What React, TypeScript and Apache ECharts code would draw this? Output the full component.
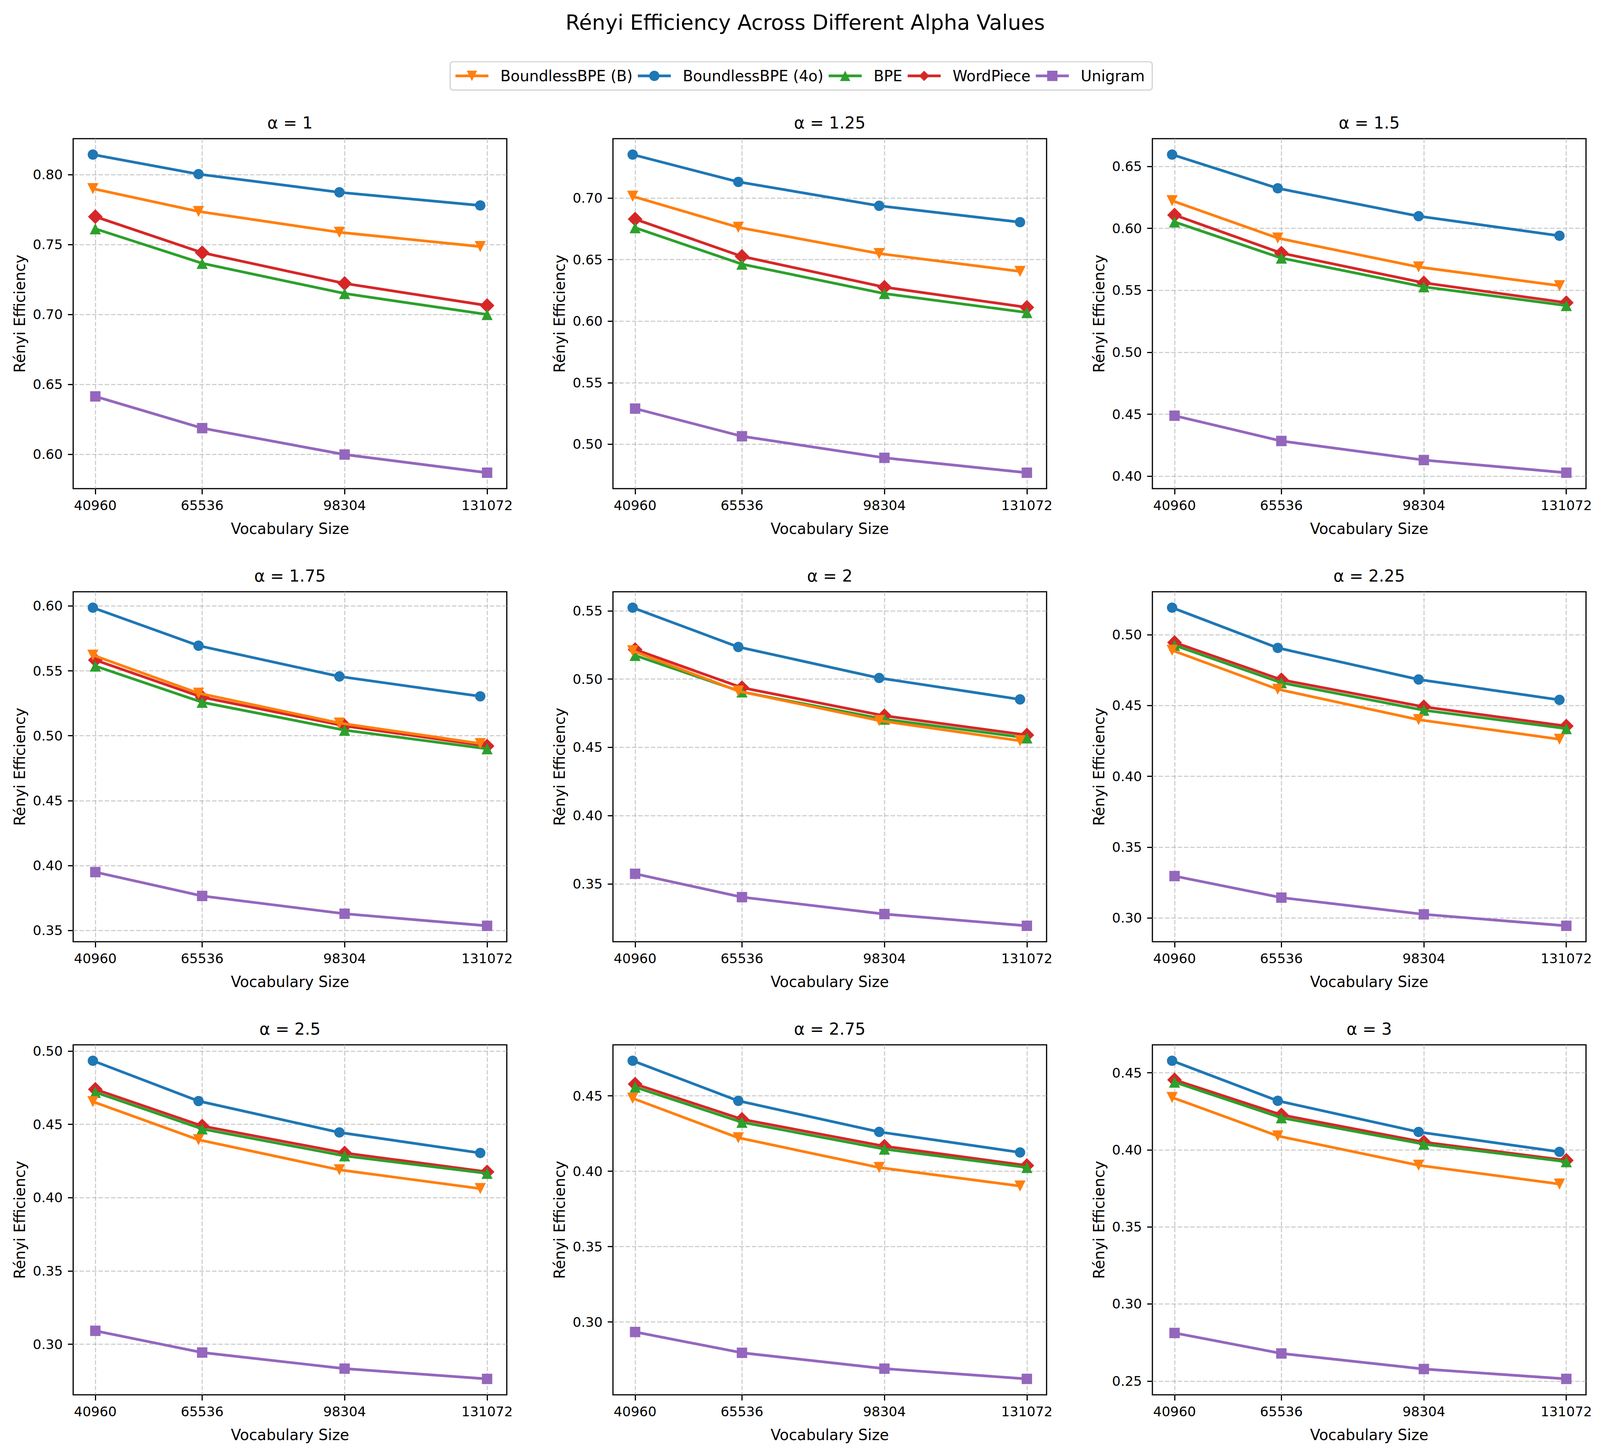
import React, { useEffect, useRef } from 'react';
import * as echarts from 'echarts';

// ---------------- data ----------------
const alphaLabels = ['1', '1.25', '1.5', '1.75', '2', '2.25', '2.5', '2.75', '3'];
const vocabSizes = [40960, 65536, 98304, 131072];
const vocabTickLabels = ['40960', '65536', '98304', '131072'];
// BoundlessBPE points sit slightly left of the nominal vocabulary sizes
const boundlessVocabSizes = [40400, 64700, 97100, 129500];

const boundlessB = [
  [0.790, 0.7737, 0.7588, 0.7486],
  [0.7014, 0.6762, 0.6549, 0.6404],
  [0.6223, 0.5921, 0.5688, 0.5537],
  [0.5621, 0.5328, 0.5098, 0.494],
  [0.5207, 0.4912, 0.4696, 0.4548],
  [0.489, 0.4615, 0.44, 0.4262],
  [0.4655, 0.4395, 0.419, 0.4062],
  [0.4484, 0.4222, 0.4025, 0.3902],
  [0.434, 0.409, 0.39, 0.3778],
];
const boundless4o = [
  [0.8144, 0.8004, 0.7874, 0.778],
  [0.7353, 0.7131, 0.6937, 0.6804],
  [0.6595, 0.6323, 0.6098, 0.594],
  [0.5987, 0.5694, 0.5457, 0.5304],
  [0.5523, 0.5235, 0.5008, 0.4851],
  [0.5191, 0.4907, 0.4684, 0.454],
  [0.4934, 0.4659, 0.4445, 0.4305],
  [0.4733, 0.4467, 0.4261, 0.4125],
  [0.4578, 0.4318, 0.4116, 0.3987],
];
const bpe = [
  [0.7613, 0.7366, 0.715, 0.700],
  [0.6759, 0.6463, 0.6224, 0.607],
  [0.6051, 0.576, 0.5528, 0.5377],
  [0.5537, 0.5258, 0.5043, 0.49],
  [0.5173, 0.4906, 0.4706, 0.4569],
  [0.4925, 0.4661, 0.4467, 0.4337],
  [0.4719, 0.4469, 0.4285, 0.4166],
  [0.4558, 0.4325, 0.4147, 0.4025],
  [0.4439, 0.4208, 0.4037, 0.3923],
];
const wordPiece = [
  [0.770, 0.7442, 0.7222, 0.7064],
  [0.6829, 0.6526, 0.6276, 0.6112],
  [0.6107, 0.58, 0.556, 0.54],
  [0.5583, 0.5297, 0.5076, 0.4921],
  [0.5216, 0.4937, 0.4731, 0.459],
  [0.4945, 0.4682, 0.4491, 0.4355],
  [0.4739, 0.4489, 0.4305, 0.4176],
  [0.4578, 0.4345, 0.4166, 0.4038],
  [0.4454, 0.4227, 0.405, 0.3932],
];
const unigram = [
  [0.6414, 0.6187, 0.5998, 0.5868],
  [0.529, 0.5065, 0.489, 0.4769],
  [0.4488, 0.4284, 0.413, 0.4028],
  [0.395, 0.3766, 0.3629, 0.3536],
  [0.3574, 0.3403, 0.3279, 0.3193],
  [0.3296, 0.3144, 0.3026, 0.2945],
  [0.3092, 0.2944, 0.2834, 0.2764],
  [0.2934, 0.2796, 0.2691, 0.2623],
  [0.2812, 0.2679, 0.2578, 0.2514],
];
const legendOrder = ['BoundlessBPE (B)', 'BoundlessBPE (4o)', 'BPE', 'WordPiece', 'Unigram'];

// ---------------- styling / layout (reference pixels, scaled to the viewport) ----------------
const REF_W = 4461;
const REF_H = 3720;
const FONT = 'DejaVu Sans';
const colLefts = [204, 1709, 3213];
const rowTops = [355, 1515, 2675];
const GW = 1209;
const GH = 896;

const methods = [
  { name: 'WordPiece', data: wordPiece, x: vocabSizes, color: '#d62728', symbol: 'diamond', size: 41, rotate: 0 },
  { name: 'BPE', data: bpe, x: vocabSizes, color: '#2ca02c', symbol: 'triangle', size: 31, rotate: 0 },
  { name: 'Unigram', data: unigram, x: vocabSizes, color: '#9467bd', symbol: 'rect', size: 29, rotate: 0 },
  { name: 'BoundlessBPE (4o)', data: boundless4o, x: boundlessVocabSizes, color: '#1f77b4', symbol: 'circle', size: 29, rotate: 0 },
  { name: 'BoundlessBPE (B)', data: boundlessB, x: boundlessVocabSizes, color: '#ff7f0e', symbol: 'triangle', size: 31, rotate: 180 },
];

function buildOption(sx: number, sy: number) {
  const X = (v: number) => v * sx;
  const Y = (v: number) => v * sy;
  const sf = Math.min(sx, sy);
  const F = (v: number) => v * sf;
  const gridLineStyle = { color: '#b0b0b0', opacity: 0.6, width: F(3.3), type: [F(12.3), F(5.3)] };

  const allX = [...vocabSizes, ...boundlessVocabSizes];
  const xLo = Math.min(...allX);
  const xHi = Math.max(...allX);
  const xMin = xLo - 0.05 * (xHi - xLo);
  const xMax = xHi + 0.05 * (xHi - xLo);

  const grids: any[] = [];
  const xAxes: any[] = [];
  const yAxes: any[] = [];
  const series: any[] = [];
  const titles: any[] = [
    {
      text: 'Rényi Efficiency Across Different Alpha Values',
      left: X(2245),
      top: Y(57),
      textAlign: 'center',
      textVerticalAlign: 'middle',
      padding: 0,
      textStyle: { fontFamily: FONT, fontSize: F(58.3), fontWeight: 'normal', color: '#000' },
    },
  ];

  alphaLabels.forEach((a, i) => {
    const r = Math.floor(i / 3);
    const c = i % 3;
    const left = colLefts[c];
    const top = rowTops[r];
    grids.push({
      left: X(left), top: Y(top), width: X(GW), height: Y(GH),
      show: true, borderColor: '#000', borderWidth: F(3.3), backgroundColor: 'transparent', containLabel: false,
    });

    const vals = methods.flatMap((m) => m.data[i]);
    const lo = Math.min(...vals);
    const hi = Math.max(...vals);
    const yMin = lo - 0.05 * (hi - lo);
    const yMax = hi + 0.05 * (hi - lo);
    const yTicks: number[] = [];
    for (let k = Math.ceil(yMin / 0.05 - 1e-9); k * 0.05 <= yMax + 1e-9; k++) {
      yTicks.push(Math.round(k * 5) / 100);
    }

    titles.push({
      text: `α = ${a}`,
      left: X(left + GW / 2),
      top: Y(top - 41),
      textAlign: 'center',
      textVerticalAlign: 'middle',
      padding: 0,
      textStyle: { fontFamily: FONT, fontSize: F(45.8), fontWeight: 'normal', color: '#000' },
    });

    xAxes.push({
      type: 'value',
      gridIndex: i,
      min: xMin,
      max: xMax,
      axisLine: { show: false, onZero: false },
      axisTick: { show: true, customValues: vocabSizes, length: Y(14.6), inside: false, lineStyle: { color: '#000', width: F(3.3) } },
      axisLabel: {
        customValues: vocabSizes,
        formatter: (v: number) => vocabTickLabels[vocabSizes.indexOf(v)] ?? String(v),
        fontFamily: FONT,
        fontSize: F(37.5),
        color: '#000',
        margin: Y(26),
      },
      splitLine: { show: true, lineStyle: gridLineStyle },
      name: 'Vocabulary Size',
      nameLocation: 'middle',
      nameGap: Y(83),
      nameTextStyle: { fontFamily: FONT, fontSize: F(41.7), color: '#000' },
    });

    yAxes.push({
      type: 'value',
      gridIndex: i,
      min: yMin,
      max: yMax,
      axisLine: { show: false, onZero: false },
      axisTick: { show: true, customValues: yTicks, length: X(14.6), inside: false, lineStyle: { color: '#000', width: F(3.3) } },
      axisLabel: {
        customValues: yTicks,
        formatter: (v: number) => v.toFixed(2),
        fontFamily: FONT,
        fontSize: F(37.5),
        color: '#000',
        margin: X(29),
      },
      splitLine: { show: true, lineStyle: gridLineStyle },
      name: 'Rényi Efficiency',
      nameLocation: 'middle',
      nameRotate: 90,
      nameGap: X(128),
      nameTextStyle: { fontFamily: FONT, fontSize: F(41.7), color: '#000' },
    });

    methods.forEach((m, mi) => {
      series.push({
        type: 'line',
        name: m.name,
        xAxisIndex: i,
        yAxisIndex: i,
        data: m.x.map((x, j) => [x, m.data[i][j]]),
        symbol: m.symbol,
        symbolSize: F(m.size),
        symbolRotate: m.rotate,
        showSymbol: true,
        showAllSymbol: true,
        clip: false,
        z: 2 + mi,
        silent: true,
        lineStyle: { color: m.color, width: F(7.5) },
        itemStyle: { color: m.color, borderWidth: 0 },
        emphasis: { disabled: true },
      });
    });
  });

  return {
    animation: false,
    backgroundColor: '#ffffff',
    textStyle: { fontFamily: FONT },
    title: titles,
    legend: {
      data: legendOrder,
      left: X(1255),
      top: Y(158),
      orient: 'horizontal',
      itemWidth: X(92),
      itemHeight: F(36),
      itemGap: X(11),
      padding: [Y(17), X(21), Y(17), X(11)],
      borderColor: '#d5d5d5',
      borderWidth: F(3.5),
      borderRadius: F(8),
      backgroundColor: '#ffffff',
      selectedMode: false,
      lineStyle: { width: F(7.5) },
      textStyle: { fontFamily: FONT, fontSize: F(41.7), color: '#000', padding: [0, 0, 0, X(28)], lineHeight: F(42) },
    },
    grid: grids,
    xAxis: xAxes,
    yAxis: yAxes,
    series,
  };
}

export default function App() {
  const ref = useRef<HTMLDivElement>(null);
  const vw = typeof window !== 'undefined' && window.innerWidth ? window.innerWidth : REF_W;
  const vh = typeof window !== 'undefined' && window.innerHeight ? window.innerHeight : REF_H;
  const sx = vw / REF_W;
  const sy = vh / REF_H;

  useEffect(() => {
    if (!ref.current) return;
    const chart = echarts.init(ref.current, undefined, { renderer: 'svg', width: vw, height: vh });
    chart.setOption(buildOption(sx, sy) as any);
    return () => {
      chart.dispose();
    };
  }, []);

  return (
    <div
      ref={ref}
      style={{ position: 'absolute', left: 0, top: 0, width: vw, height: vh, background: '#fff', overflow: 'hidden' }}
    />
  );
}
